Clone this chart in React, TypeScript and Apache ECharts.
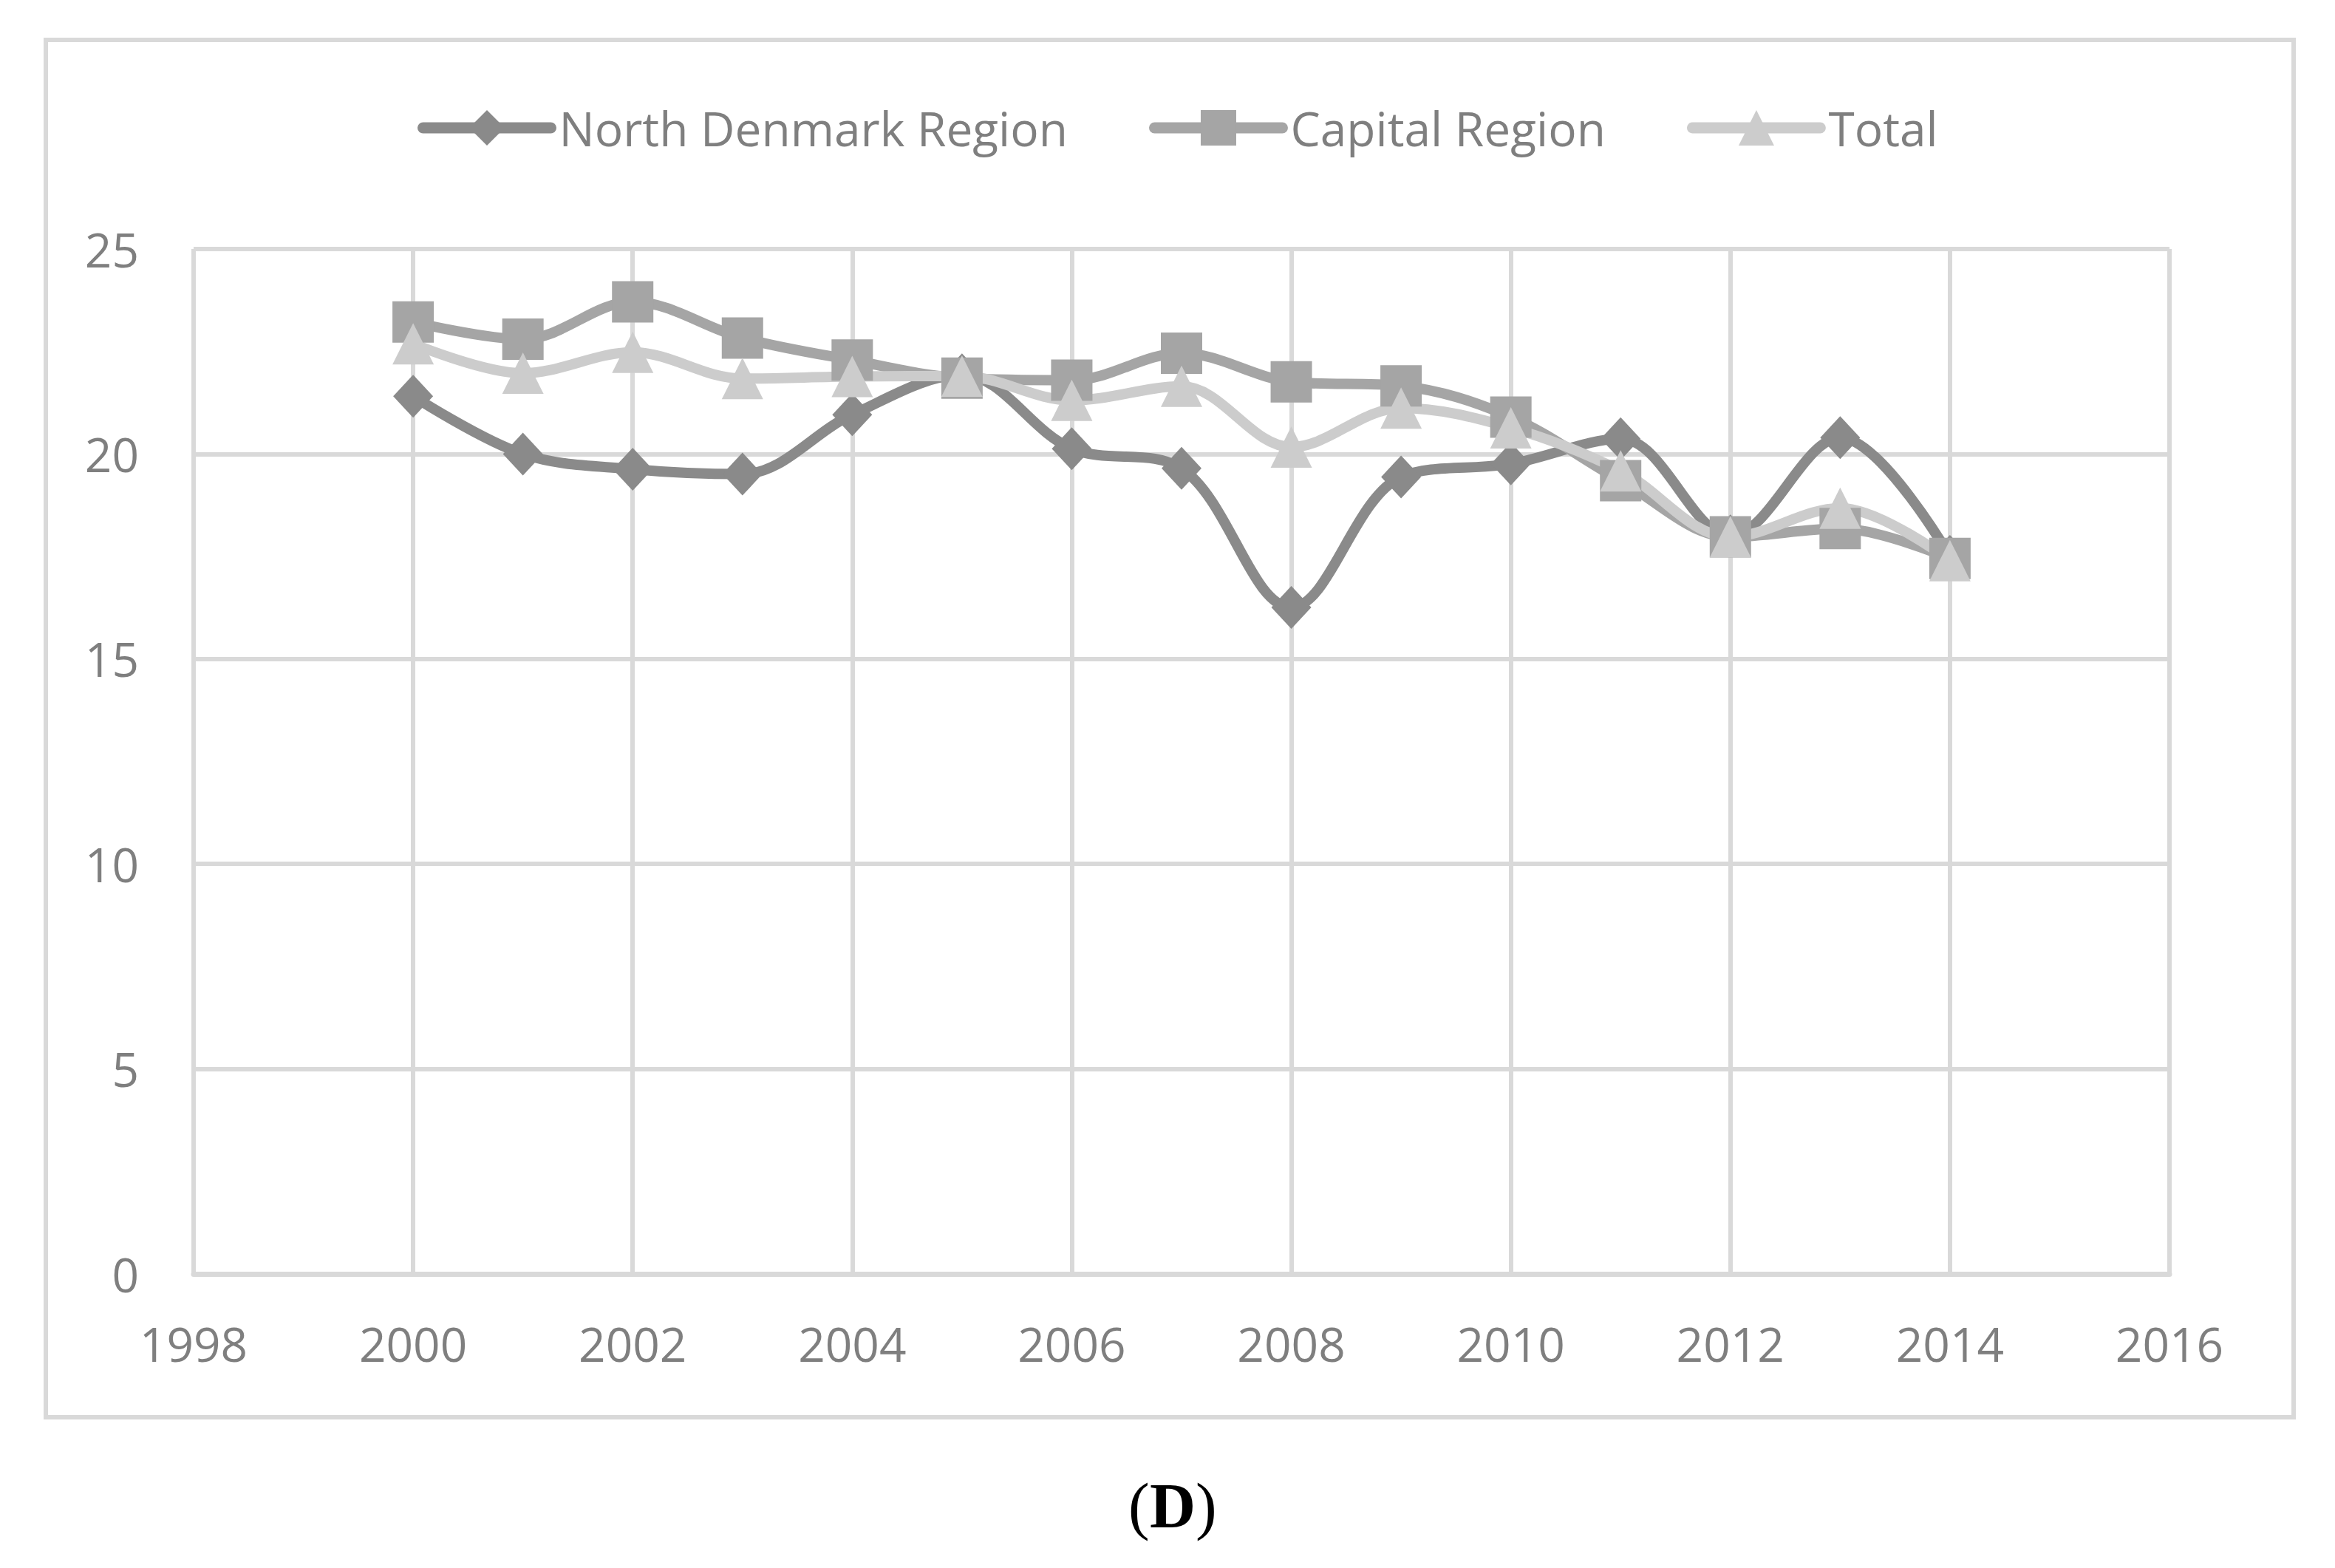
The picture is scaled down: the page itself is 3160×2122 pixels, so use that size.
import { useEffect, useRef } from "react";
import * as echarts from "echarts";

const years = [2000, 2001, 2002, 2003, 2004, 2005, 2006, 2007, 2008, 2009, 2010, 2011, 2012, 2013, 2014];
const northDenmark = [21.41, 20.0, 19.63, 19.51, 20.96, 21.93, 20.13, 19.65, 16.26, 19.44, 19.76, 20.37, 18.0, 20.4, 17.5];
const capitalRegion = [23.22, 22.8, 23.71, 22.83, 22.29, 21.85, 21.8, 22.46, 21.76, 21.66, 20.9, 19.35, 17.98, 18.18, 17.45];
const total = [22.69, 21.97, 22.48, 21.84, 21.89, 21.9, 21.31, 21.65, 20.17, 21.12, 20.64, 19.59, 17.98, 18.68, 17.4];
const seriesNames = ["North Denmark Region", "Capital Region", "Total"];
const seriesColors = ["#8a8a8a", "#a5a5a5", "#cccccc"];
const xMin = 1998;
const xMax = 2016;
const yMin = 0;
const yMax = 25;

export default function App() {
  const ref = useRef<HTMLDivElement>(null);
  useEffect(() => {
    const chart = echarts.init(ref.current!, null, { renderer: "svg" });
    const pair = (arr: number[]) => years.map((y, i) => [y, arr[i]]);
    const labelColor = "#7f7f7f";
    const font = "'Open Sans', 'Noto Sans', sans-serif";
    const serif = "'Liberation Serif', 'DejaVu Serif', serif";
    const mk = (name: string, data: number[], color: string, symbol: string, size: any) => ({
      name,
      type: "line",
      data: pair(data),
      smooth: 0.35,
      symbol,
      symbolSize: size,
      showSymbol: true,
      lineStyle: { color, width: 14, cap: "round", join: "round" },
      itemStyle: { color, borderColor: color, borderWidth: 0 },
      emphasis: { disabled: true },
    });
    const capText = (text: string, x: number, weight: string) => ({
      type: "text",
      x,
      y: 2038,
      silent: true,
      style: {
        text,
        align: "left",
        verticalAlign: "middle",
        fontFamily: serif,
        fontSize: 86,
        fontWeight: weight,
        fill: "#000",
      },
    });
    chart.setOption({
      animation: false,
      backgroundColor: "#ffffff",
      grid: { left: 262, top: 337, width: 2674, height: 1387, containLabel: false },
      legend: {
        left: 560,
        top: 136,
        itemWidth: 173,
        itemHeight: 60,
        itemGap: 110,
        data: seriesNames.map((n, i) => ({
          name: n,
          lineStyle: { color: seriesColors[i], width: 15, cap: "round" },
          itemStyle: { color: seriesColors[i] },
        })),
        textStyle: { fontFamily: font, fontSize: 64, color: labelColor, padding: [0, 0, 0, 6] },
      },
      xAxis: {
        type: "value",
        min: xMin,
        max: xMax,
        interval: 2,
        axisLine: { show: true, lineStyle: { color: "#d9d9d9", width: 7 } },
        axisTick: { show: false },
        splitLine: { show: true, lineStyle: { color: "#d9d9d9", width: 6 } },
        axisLabel: {
          formatter: (v: number) => String(v),
          fontFamily: font,
          fontSize: 64,
          color: labelColor,
          margin: 62,
          showMinLabel: true,
          showMaxLabel: true,
        },
      },
      yAxis: {
        type: "value",
        min: yMin,
        max: yMax,
        interval: 5,
        axisLine: { show: false },
        axisTick: { show: false },
        splitLine: { show: true, lineStyle: { color: "#d9d9d9", width: 6 } },
        axisLabel: { fontFamily: font, fontSize: 64, color: labelColor, margin: 74 },
      },
      series: [
        mk(seriesNames[0], northDenmark, seriesColors[0], "diamond", [54, 58]),
        mk(seriesNames[1], capitalRegion, seriesColors[1], "rect", 56),
        mk(seriesNames[2], total, seriesColors[2], "triangle", 56),
      ],
      graphic: [
        {
          type: "rect",
          shape: { x: 62, y: 54, width: 3042, height: 1864 },
          style: { fill: "none", stroke: "#d9d9d9", lineWidth: 6 },
          silent: true,
        },
        capText("(", 1527, "normal"),
        capText("D", 1556, "bold"),
        capText(")", 1618, "normal"),
      ],
    });
    return () => chart.dispose();
  }, []);
  return (
    <div
      ref={ref}
      style={{ position: "absolute", left: 0, top: 0, width: 3160, height: 2122, background: "#fff" }}
    />
  );
}
